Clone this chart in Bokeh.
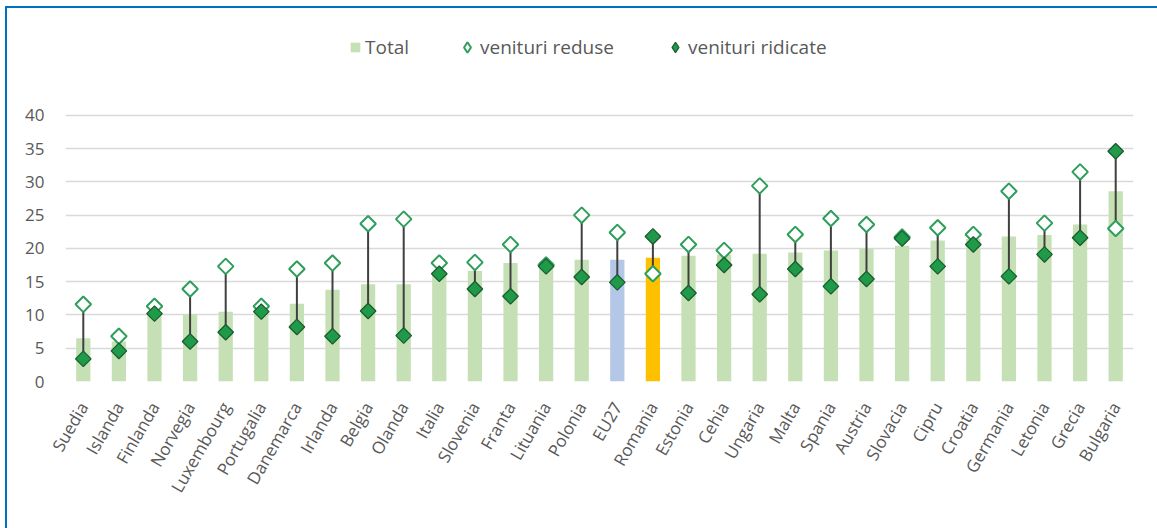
import math
from bokeh.plotting import figure
from bokeh.models import (ColumnDataSource, FactorRange, Range1d, FixedTicker,
                          Legend, LegendItem)
from bokeh.embed import file_html
from bokeh.resources import INLINE

# ---------------- data ----------------
countries = ["Suedia", "Islanda", "Finlanda", "Norvegia", "Luxembourg", "Portugalia",
             "Danemarca", "Irlanda", "Belgia", "Olanda", "Italia", "Slovenia", "Franta",
             "Lituania", "Polonia", "EU27", "Romania", "Estonia", "Cehia", "Ungaria",
             "Malta", "Spania", "Austria", "Slovacia", "Cipru", "Croatia", "Germania",
             "Letonia", "Grecia", "Bulgaria"]
total = [6.5, 6.0, 10.2, 10.1, 10.5, 10.6, 11.7, 13.8, 14.6, 14.6, 16.2, 16.6, 17.8,
         18.0, 18.3, 18.3, 18.6, 18.9, 19.1, 19.2, 19.4, 19.7, 20.0, 20.4, 21.2, 21.4,
         21.8, 22.0, 23.6, 28.6]
venituri_reduse = [11.6, 6.8, 11.3, 13.9, 17.3, 11.3, 16.9, 17.8, 23.7, 24.4, 17.8, 17.9,
                   20.6, 17.5, 25.0, 22.4, 16.2, 20.6, 19.7, 29.4, 22.1, 24.5, 23.6, 21.7,
                   23.1, 22.1, 28.6, 23.8, 31.5, 23.0]
venituri_ridicate = [3.4, 4.6, 10.2, 6.0, 7.4, 10.5, 8.2, 6.8, 10.6, 6.9, 16.2, 13.9,
                     12.8, 17.3, 15.7, 14.9, 21.8, 13.3, 17.5, 13.1, 16.9, 14.3, 15.4,
                     21.5, 17.3, 20.6, 15.8, 19.1, 21.6, 34.6]
y_ticks = [0, 5, 10, 15, 20, 25, 30, 35, 40]

GREEN_BAR = "#C5E0B4"
HIGHLIGHT = {"EU27": "#B4C7E7", "Romania": "#FFC000"}
bar_colors = [HIGHLIGHT.get(c, GREEN_BAR) for c in countries]

src = ColumnDataSource(dict(c=countries, total=total, reduse=venituri_reduse,
                            ridicate=venituri_ridicate, color=bar_colors))

FONT = "Open Sans"
GREY = "#595959"
FRAME_BLUE = "#0070C0"
HOLLOW = dict(fill_color="white", line_color="#2E9E5B", line_width=2)
FILLED = dict(fill_color="#1E9A48", line_color="#1D5C32", line_width=1.3)

# frame extends above the 40 gridline so the legend can sit inside it
p = figure(x_range=FactorRange(factors=countries), y_range=Range1d(0, 53.5),
           width=1150, height=520, output_backend="svg", toolbar_location=None,
           min_border_left=58, min_border_right=24, min_border_top=17,
           min_border_bottom=147, outline_line_color=None)
p.styles = {"margin-top": "8px", "margin-left": "7px"}

bars = p.vbar(x="c", top="total", width=0.4, source=src, fill_color="color",
              line_color=None)
p.segment(x0="c", y0="reduse", x1="c", y1="ridicate", source=src,
          line_color="#404040", line_width=2)
p.scatter(x="c", y="reduse", source=src, marker="square", angle=math.pi / 4,
          size=11, **HOLLOW)
p.scatter(x="c", y="ridicate", source=src, marker="square", angle=math.pi / 4,
          size=11, **FILLED)
# legend-only renderers (diamond glyph in the legend), placed below the visible range
leg_red = p.scatter(x=[countries[0]], y=[-50], marker="diamond", size=12, **HOLLOW)
leg_rid = p.scatter(x=[countries[0]], y=[-50], marker="diamond", size=12, **FILLED)

# axes
p.xgrid.grid_line_color = None
p.ygrid.grid_line_color = "#D9D9D9"
p.ygrid.grid_line_width = 1.6
p.yaxis.ticker = FixedTicker(ticks=y_ticks)
for ax in (p.xaxis, p.yaxis):
    ax.axis_line_color = None
    ax.major_tick_line_color = None
    ax.minor_tick_line_color = None
    ax.major_tick_out = 0
    ax.major_tick_in = 0
    ax.major_label_text_font = FONT
    ax.major_label_text_color = GREY
p.yaxis.major_label_text_font_size = "17px"
p.xaxis.major_label_text_font_size = "17px"
p.yaxis.major_label_standoff = 21
p.xaxis.major_label_standoff = 22
p.xaxis.major_label_orientation = math.radians(60)

# legends
leg1 = Legend(items=[LegendItem(label="Total", renderers=[bars], index=0)],
              location=(284, 321), orientation="horizontal", glyph_width=12,
              glyph_height=12, label_standoff=4, padding=0, margin=0,
              border_line_color=None, background_fill_alpha=0,
              label_text_font=FONT, label_text_font_size="19px",
              label_text_color=GREY)
leg2 = Legend(items=[LegendItem(label="venituri reduse", renderers=[leg_red], index=0),
                     LegendItem(label="venituri ridicate", renderers=[leg_rid], index=0)],
              location=(389, 321), orientation="horizontal", glyph_width=26,
              glyph_height=26, label_standoff=0, spacing=48, padding=0, margin=0,
              border_line_color=None, background_fill_alpha=0,
              label_text_font=FONT, label_text_font_size="19px",
              label_text_color=GREY)
p.add_layout(leg1, "center")
p.add_layout(leg2, "center")

html = file_html(p, INLINE)
# blue top/left edge of the surrounding box (page decoration, no layout impact)
frame_div = ('<div style="position:fixed;left:5px;top:6px;width:1160px;height:530px;'
             'border-top:2px solid %s;border-left:2px solid %s;z-index:9999;'
             'pointer-events:none;"></div>' % (FRAME_BLUE, FRAME_BLUE))
if "</body>" in html:
    html = html.replace("</body>", frame_div + "</body>", 1)
open("out.html", "w").write(html)
